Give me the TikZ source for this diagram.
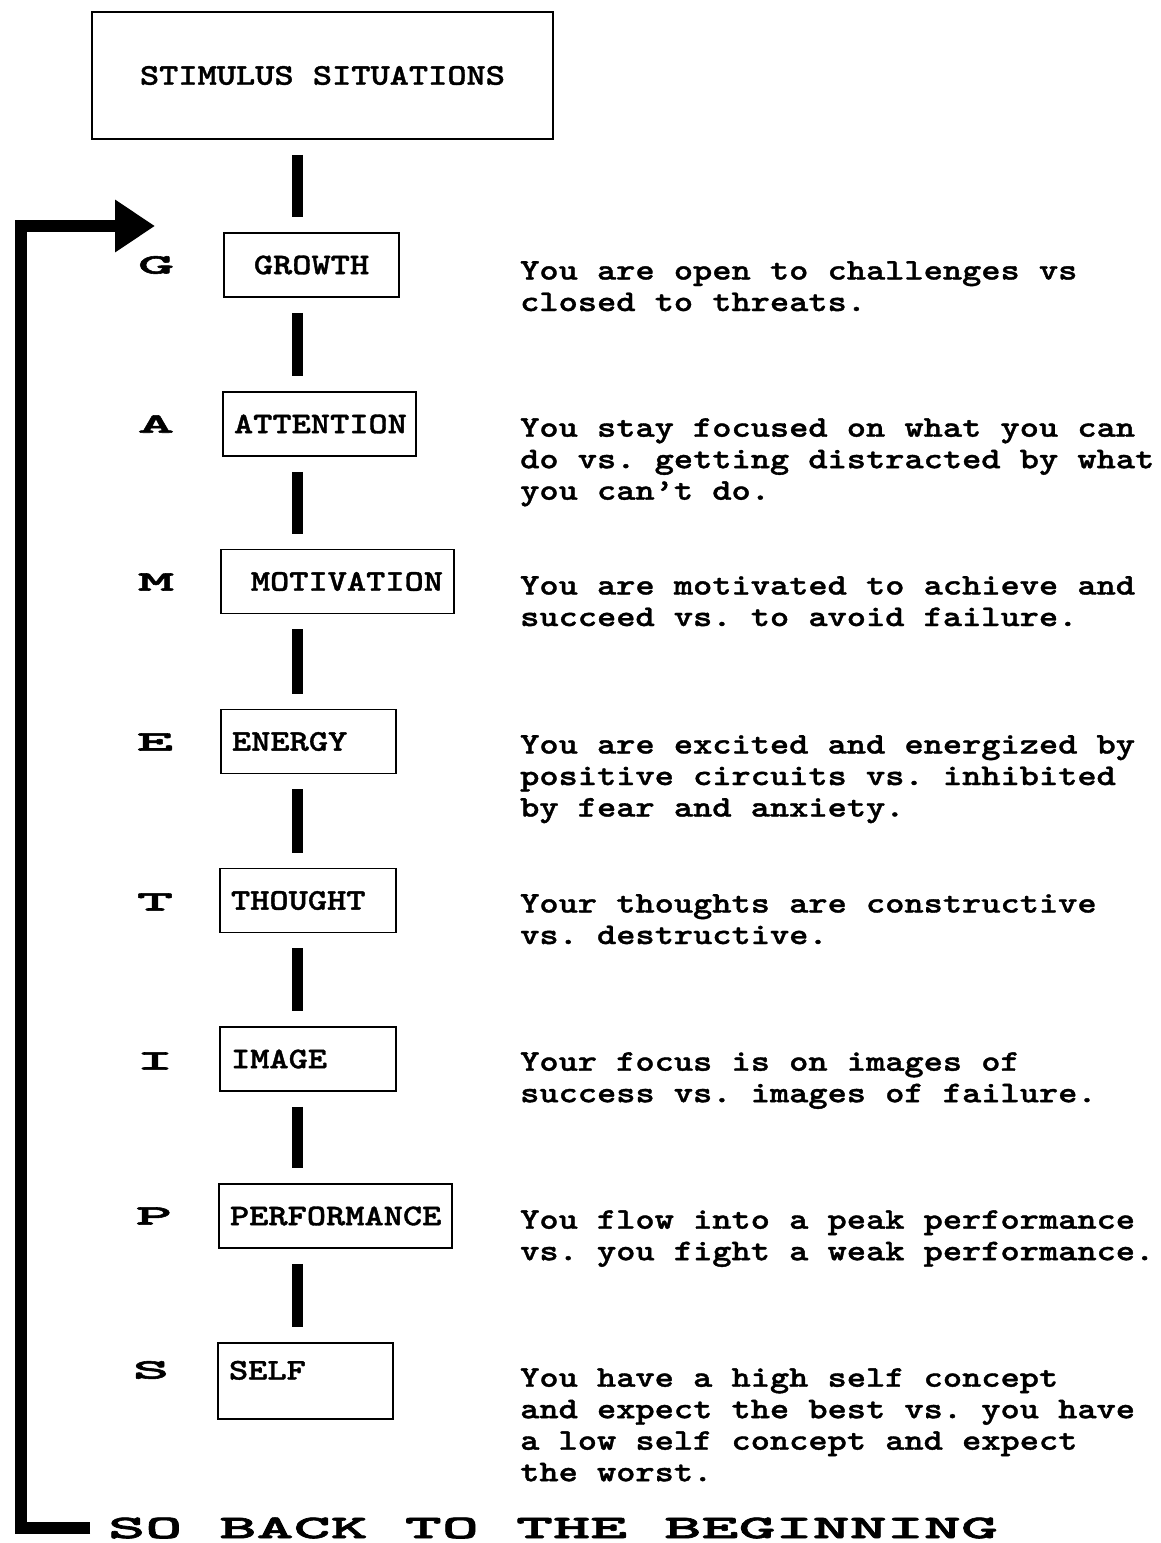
\documentclass[tikz,border=0pt]{standalone}
\usepackage{fontspec}
\newfontfamily\cour{lmmonolt10-bold}[Extension=.otf,FakeStretch=1.22,FakeBold=1.2]
\newfontfamily\initfont{lmmonolt10-bold}[Extension=.otf,FakeStretch=2.5,FakeBold=2]
\newfontfamily\backfont{lmmonolt10-bold}[Extension=.otf,FakeStretch=2.14,FakeBold=2]
\usetikzlibrary{arrows.meta}
\begin{document}
\begin{tikzpicture}[x=1pt,y=-1pt,
  tw/.style={font=\fontsize{30}{31.5}\selectfont\cour\frenchspacing},
  stage/.style={draw, line width=1.8pt, tw, inner xsep=11pt, inner ysep=0pt, minimum height=64pt},
  initial/.style={font=\fontsize{28}{28}\selectfont\initfont, inner sep=0pt},
  desc/.style={tw, align=left, anchor=north west, inner sep=0pt},
  bar/.style={line width=11pt, shorten <=15pt, shorten >=15pt},
  loopline/.style={line width=12pt, miter limit=10, -{Triangle[length=40pt,width=50pt]}}
]
\useasboundingbox (0,0) rectangle (1161,1543);

\node[draw, line width=1.8pt, tw, minimum width=461pt, minimum height=127pt, inner sep=0pt] (stim) at (322.5,75.5) {STIMULUS SITUATIONS};

\node[stage, text width=153pt, align=center] (grow) at (311.5,265) {GROWTH};
\node[stage, text width=171pt, align=center] (att) at (319.5,424) {ATTENTION};
\node[stage, text width=211pt, align=right] (mot) at (337.5,581.5) {MOTIVATION};
\node[stage, text width=153pt, align=left] (ene) at (308.5,741.5) {ENERGY};
\node[stage, text width=154pt, align=left] (tho) at (308,900.5) {THOUGHT};
\node[stage, text width=154pt, align=left] (img) at (308,1059) {IMAGE};
\node[stage, text width=211pt, align=left] (perf) at (335.5,1216) {PERFORMANCE};
\node[stage, text width=153pt, align=left, minimum height=0pt, text height=36.5pt, text depth=39.5pt] (self) at (305.5,1381) {SELF};

\node[initial] (lG) at (156,265) {G};
\node[initial] (lA) at (156,424) {A};
\node[initial] (lM) at (156,582) {M};
\node[initial] (lE) at (155,742) {E};
\node[initial] (lT) at (155,902) {T};
\node[initial] (lI) at (155,1061) {I};
\node[initial] (lP) at (154,1216) {P};
\node[initial] (lS) at (151,1370) {S};

\node[desc] (dG) at (520,261) {You are open to challenges vs\\closed to threats.};
\node[desc] (dA) at (520,418) {You stay focused on what you can\\do vs. getting distracted by what\\you can’t do.};
\node[desc] (dM) at (520,576) {You are motivated to achieve and\\succeed vs. to avoid failure.};
\node[desc] (dE) at (520,735) {You are excited and energized by\\positive circuits vs. inhibited\\by fear and anxiety.};
\node[desc] (dT) at (520,894) {Your thoughts are constructive\\vs. destructive.};
\node[desc] (dI) at (520,1052) {Your focus is on images of\\success vs. images of failure.};
\node[desc] (dP) at (520,1210) {You flow into a peak performance\\vs. you fight a weak performance.};
\node[desc] (dS) at (520,1368) {You have a high self concept\\and expect the best vs. you have\\a low self concept and expect\\the worst.};

\coordinate (col) at (297,0);
\draw[bar] (stim.south -| col) -- (grow.north -| col);
\draw[bar] (grow.south -| col) -- (att.north -| col);
\draw[bar] (att.south -| col) -- (mot.north -| col);
\draw[bar] (mot.south -| col) -- (ene.north -| col);
\draw[bar] (ene.south -| col) -- (tho.north -| col);
\draw[bar] (tho.south -| col) -- (img.north -| col);
\draw[bar] (img.south -| col) -- (perf.north -| col);
\draw[bar] (perf.south -| col) -- (self.north -| col);

\node[font=\fontsize{33}{33}\selectfont\backfont, inner sep=0pt, anchor=west] (back) at (108,1528) {SO BACK TO THE BEGINNING};
\coordinate (corner) at (21,226);
\coordinate (loopend) at (155,226);
\draw[loopline] ([xshift=-18pt]back.west) -| (corner) -- (loopend);
\end{tikzpicture}
\end{document}
